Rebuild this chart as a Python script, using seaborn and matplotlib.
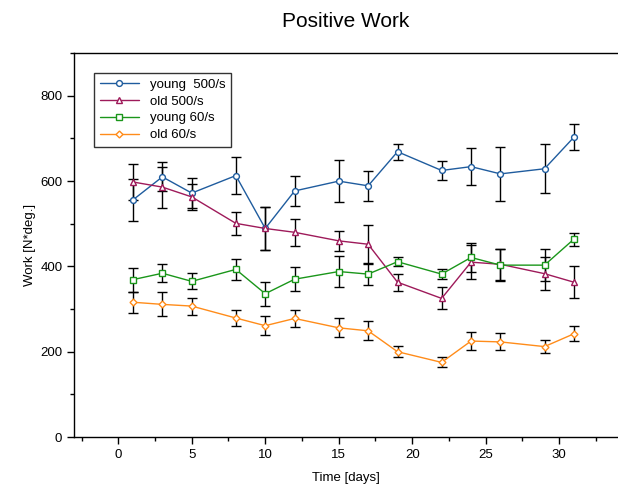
import matplotlib
matplotlib.use("Agg")
import matplotlib.pyplot as plt
from matplotlib.ticker import MultipleLocator
import seaborn as sns

days = [1, 3, 5, 8, 10, 12, 15, 17, 19, 22, 24, 26, 29, 31]

young_500 = [556, 610, 572, 613, 489, 577, 600, 589, 669, 625, 634, 617, 629, 703]
young_500_err = [50, 34, 36, 43, 50, 36, 49, 35, 19, 22, 44, 63, 58, 30]

old_500 = [598, 586, 563, 501, 489, 480, 460, 452, 363, 325, 410, 405, 383, 363]
old_500_err = [43, 48, 30, 27, 50, 32, 23, 46, 20, 26, 40, 37, 38, 37]

young_60 = [369, 384, 365, 393, 336, 370, 388, 382, 411, 382, 421, 403, 403, 464]
young_60_err = [28, 21, 19, 24, 28, 28, 37, 25, 10, 12, 33, 38, 38, 15]

old_60 = [316, 311, 307, 279, 261, 278, 256, 249, 200, 175, 225, 223, 212, 242]
old_60_err = [25, 28, 20, 18, 22, 20, 22, 22, 13, 12, 21, 20, 15, 18]

series = [
    ("young  500/s", young_500, young_500_err, "#1f5c9e", "o", 4.2),
    ("old 500/s", old_500, old_500_err, "#9e1a5a", "^", 4.5),
    ("young 60/s", young_60, young_60_err, "#1a961a", "s", 4.2),
    ("old 60/s", old_60, old_60_err, "#ff8c1a", "D", 3.5),
]

sns.set_style("ticks")
plt.rcParams["font.family"] = ["Liberation Sans", "DejaVu Sans"]
plt.rcParams["text.color"] = "black"
plt.rcParams["axes.labelcolor"] = "black"
plt.rcParams["xtick.color"] = "black"
plt.rcParams["ytick.color"] = "black"

fig = plt.figure(figsize=(6.18, 4.88), dpi=100)
ax = fig.add_axes([0.12, 0.1045, 0.88, 0.7865])

for label, vals, err, color, marker, ms in series:
    ax.errorbar(days, vals, yerr=err, fmt="none", ecolor="black",
                elinewidth=1, capsize=3.3, capthick=1, zorder=1)
    sns.lineplot(x=days, y=vals, ax=ax, color=color, marker=marker,
                 markersize=ms, markerfacecolor="white", markeredgecolor=color,
                 markeredgewidth=1, linewidth=1, label=label, zorder=2)

ax.set_xlim(-3, 34)
ax.set_ylim(0, 900)
ax.xaxis.set_major_locator(MultipleLocator(5))
ax.xaxis.set_minor_locator(MultipleLocator(2.5))
ax.yaxis.set_major_locator(MultipleLocator(200))
ax.yaxis.set_minor_locator(MultipleLocator(100))
ax.tick_params(which="major", length=5, width=1, labelsize=9.5,
               color="black", labelcolor="black")
ax.tick_params(which="minor", length=3, width=1, color="black")

for side in ["left", "bottom", "top"]:
    ax.spines[side].set_color("black")
    ax.spines[side].set_linewidth(1)
ax.spines["right"].set_visible(False)

ax.set_xlabel("Time [days]", fontsize=9.5, labelpad=8)
ax.set_ylabel("Work [N*deg.]", fontsize=9.5, labelpad=3)
ax.set_title("Positive Work", fontsize=15, pad=19)

leg = ax.legend(loc="upper left", bbox_to_anchor=(0.025, 0.965), fontsize=9.5,
                frameon=True, fancybox=False, edgecolor="black",
                handlelength=3.0, labelspacing=0.35, borderpad=0.4)
leg.get_frame().set_linewidth(1)

fig.savefig("out.png", dpi=100)
